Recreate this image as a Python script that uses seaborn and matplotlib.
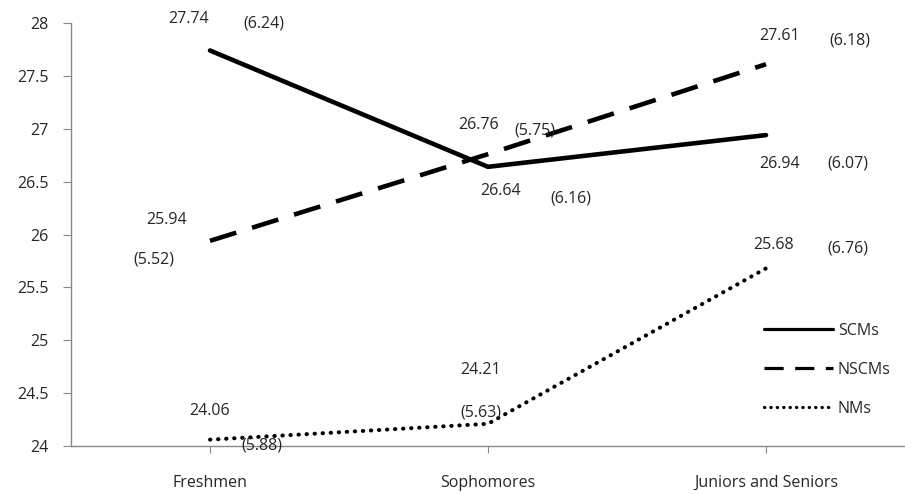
import matplotlib
matplotlib.use('Agg')
import matplotlib.pyplot as plt
import seaborn as sns
import pandas as pd

groups = ["Freshmen", "Sophomores", "Juniors and Seniors"]
series = ["SCMs", "NSCMs", "NMs"]
scm_means = [27.74, 26.64, 26.94]
nscm_means = [25.94, 26.76, 27.61]
nm_means = [24.06, 24.21, 25.68]
scm_sd = [6.24, 6.16, 6.07]
nscm_sd = [5.52, 5.75, 6.18]
nm_sd = [5.88, 5.63, 6.76]

df = pd.DataFrame({
    "group": groups * 3,
    "x": list(range(3)) * 3,
    "series": [s for s in series for _ in groups],
    "mean": scm_means + nscm_means + nm_means,
    "sd": scm_sd + nscm_sd + nm_sd,
})

# label offsets in pixels: mean label and sd label, relative to each point
mean_off = {
    "SCMs": [(-21, 31), (13, -24), (14, -29)],
    "NSCMs": [(-43, 21), (-9, 29), (14, 28)],
    "NMs": [(0, 29), (-7, 54), (8, 23)],
}
sd_off = {
    "SCMs": [(54, 27), (83, -32), (82, -28)],
    "NSCMs": [(-56, -19), (47, 24), (84, 24)],
    "NMs": [(52, -6), (-7, 11), (82, 20)],
}

sns.set_style("white")
plt.rcParams['font.family'] = ['Open Sans', 'DejaVu Sans']
FS = 11.5

fig = plt.figure(figsize=(9.05, 4.94), dpi=100)
ax = fig.add_axes([71 / 905, 1 - 446 / 494, 1 - 71 / 905, (446 - 23) / 494])

for s in series:
    d = df[df["series"] == s]
    sns.lineplot(data=d, x="x", y="mean", ax=ax, color="black", lw=3.3,
                 label=s, legend=False)
    ln = ax.lines[-1]
    if s == "NSCMs":
        ln.set_linestyle((0, (6, 3.6)))
    elif s == "NMs":
        ln.set_linestyle((0, (0.1, 1.9)))
        ln.set_dash_capstyle('round')
        ln.set_linewidth(2.9)
    for i, row in enumerate(d.itertuples()):
        ax.annotate(f"{row.mean:.2f}", (row.x, row.mean), xytext=mean_off[s][i],
                    textcoords="offset pixels", ha="center", va="center", fontsize=FS)
        ax.annotate(f"({row.sd:.2f})", (row.x, row.mean), xytext=sd_off[s][i],
                    textcoords="offset pixels", ha="center", va="center", fontsize=FS)

ax.set_xlim(-0.5, 2.5)
ax.set_ylim(24, 28)
ax.set_yticks([24, 24.5, 25, 25.5, 26, 26.5, 27, 27.5, 28])
ax.set_yticklabels(["24", "24.5", "25", "25.5", "26", "26.5", "27", "27.5", "28"])
ax.set_xticks(range(3))
ax.set_xticklabels(groups)
ax.set_xlabel("")
ax.set_ylabel("")
for sp in ["top", "right"]:
    ax.spines[sp].set_visible(False)
for sp in ["left", "bottom"]:
    ax.spines[sp].set_color("#898989")
    ax.spines[sp].set_linewidth(1)
ax.tick_params(axis="y", length=6, color="#898989", pad=10, labelsize=FS, direction="out", left=True)
ax.tick_params(axis="x", length=5, color="#898989", pad=16, labelsize=FS, direction="out", bottom=True)

leg = ax.legend(loc="lower right", bbox_to_anchor=(1.0, 0.035), frameon=False, fontsize=FS,
                handlelength=4.3, handletextpad=0.3, labelspacing=1.45)
for h in leg.get_lines():
    h.set_linewidth(2.3)

fig.savefig("out.png", dpi=100)
